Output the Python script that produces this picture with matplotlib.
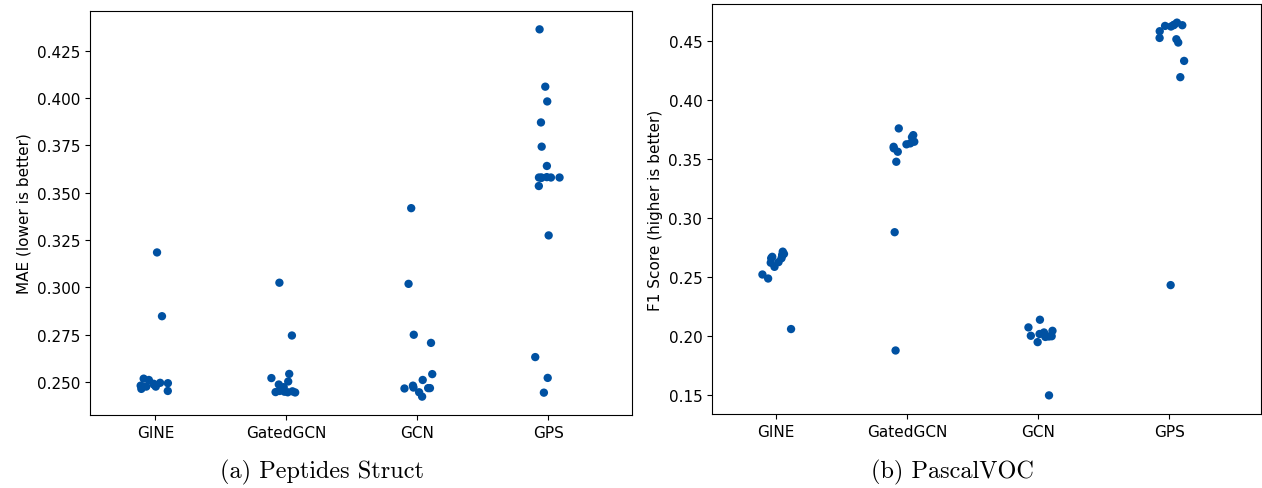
import numpy as np
import matplotlib
matplotlib.use("Agg")
import matplotlib.pyplot as plt

models = ["GINE", "GatedGCN", "GCN", "GPS"]

# Peptides Struct, MAE per run
pep_gine = [0.3184, 0.2847, 0.2510, 0.2475, 0.2452, 0.2493, 0.2517, 0.2475, 0.2463, 0.2490, 0.2480, 0.2485, 0.2495]
pep_gatedgcn = [0.3024, 0.2745, 0.2542, 0.2520, 0.2502, 0.2486, 0.2472, 0.2452, 0.2450, 0.2448, 0.2446, 0.2445, 0.2444]
pep_gcn = [0.3418, 0.3018, 0.2749, 0.2706, 0.2541, 0.2510, 0.2467, 0.2467, 0.2470, 0.2465, 0.2422, 0.2445, 0.2480]
pep_gps = [0.4363, 0.4060, 0.3982, 0.3871, 0.3743, 0.3641, 0.3580, 0.3580, 0.3580, 0.3578, 0.3582, 0.3580,
           0.3535, 0.3274, 0.2631, 0.2521, 0.2443]

# PascalVOC, F1 per run
voc_gine = [0.2714, 0.2695, 0.2686, 0.2680, 0.2670, 0.2658, 0.2658, 0.2625, 0.2620, 0.2585, 0.2520, 0.2486, 0.2057]
voc_gatedgcn = [0.3760, 0.3703, 0.3686, 0.3647, 0.3625, 0.3633, 0.3604, 0.3591, 0.3562, 0.3477, 0.2879, 0.1875]
voc_gcn = [0.2136, 0.2071, 0.2042, 0.2028, 0.2015, 0.2008, 0.2000, 0.1996, 0.1994, 0.1990, 0.1946, 0.1494]
voc_gps = [0.4658, 0.4641, 0.4636, 0.4636, 0.4630, 0.4625, 0.4585, 0.4528, 0.4517, 0.4489, 0.4333, 0.4195, 0.2430]

color = "#0051A2"
rng = np.random.RandomState(3)

fig = plt.figure(figsize=(12.62, 4.89), dpi=100)
ax1 = fig.add_axes([0.0713, 0.1493, 0.4295, 0.8262])
ax2 = fig.add_axes([0.5642, 0.1513, 0.4350, 0.8385])


def strip(ax, groups, ylabel, xlim):
    for i, vals in enumerate(groups):
        jitter = rng.uniform(-0.12, 0.12, len(vals))
        ax.scatter(i + jitter, vals, s=36, color=color, edgecolors="none", zorder=3)
    ax.set_xticks(range(len(models)))
    ax.set_xticklabels(models, fontsize=11)
    ax.tick_params(axis="y", labelsize=11)
    ax.set_xlim(*xlim)
    ax.set_ylabel(ylabel, fontsize=11)


strip(ax1, [pep_gine, pep_gatedgcn, pep_gcn, pep_gps], "MAE (lower is better)", (-0.5, 3.64))
strip(ax2, [voc_gine, voc_gatedgcn, voc_gcn, voc_gps], "F1 Score (higher is better)", (-0.49, 3.70))
ax2.set_yticks([0.15, 0.20, 0.25, 0.30, 0.35, 0.40, 0.45])

fig.text(322 / 1262, 1 - 472 / 489, "(a) Peptides Struct", family="cmr10", fontsize=17.5,
         ha="center", va="center")
fig.text(952 / 1262, 1 - 472 / 489, "(b) PascalVOC", family="cmr10", fontsize=17.5,
         ha="center", va="center")

fig.savefig("out.png", dpi=100)
